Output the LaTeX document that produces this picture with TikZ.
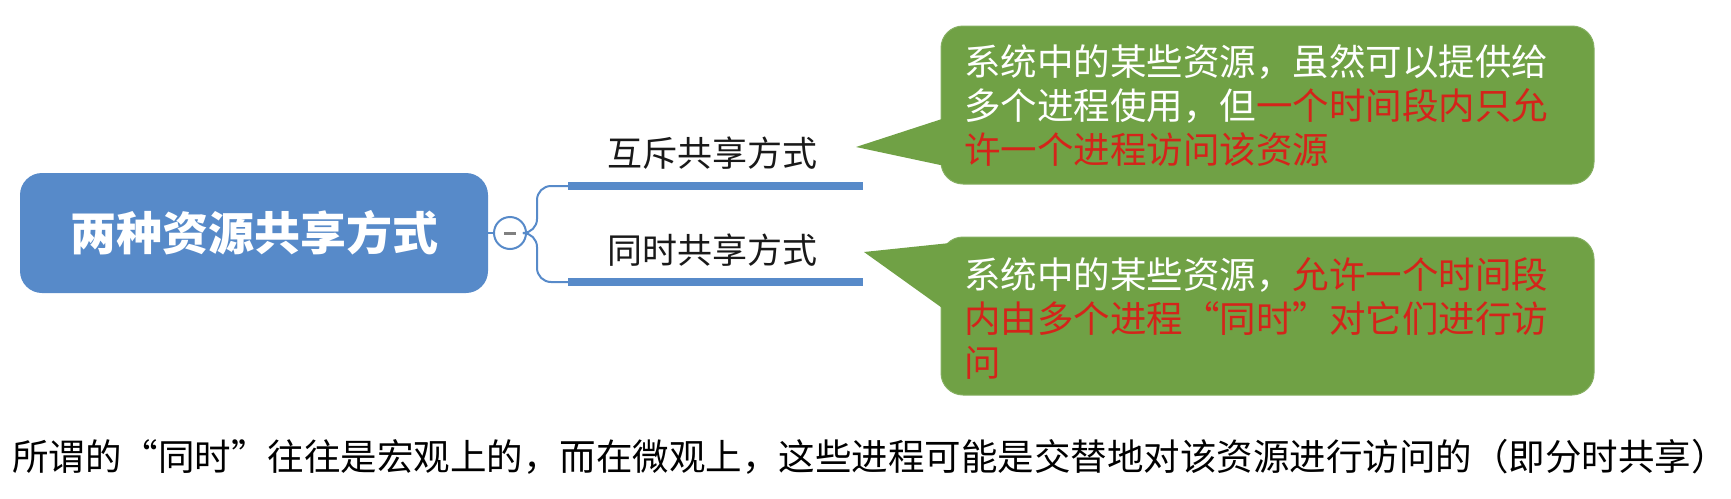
\documentclass[tikz,border=0pt]{standalone}
\usepackage{fontspec}
\setmainfont{Noto Sans CJK SC}
\definecolor{rootblue}{RGB}{87,138,201}
\definecolor{calloutgreen}{RGB}{112,161,69}
\definecolor{hlred}{RGB}{212,36,26}
\definecolor{branchtext}{RGB}{25,25,25}
\newcommand{\qopen}{\makebox[1em][r]{“}}
\newcommand{\qclose}{\makebox[1em][l]{”}}
\tikzset{
  rootbox/.style={fill=rootblue, draw=none, rounded corners=22pt, minimum width=468pt, minimum height=120pt, inner sep=0pt, text=white, font=\fontsize{46}{52}\selectfont\bfseries},
  collapse/.style={circle, draw=rootblue, line width=2pt, fill=white, minimum size=32pt, inner sep=0pt},
  branchlabel/.style={anchor=west, inner sep=0pt, text=branchtext, font=\fontsize{35}{40}\selectfont},
  underline/.style={draw=rootblue, line width=8pt},
  linkline/.style={draw=rootblue, line width=2pt, rounded corners=14pt},
  calloutbox/.style={fill=calloutgreen, draw=calloutgreen!85!white, line width=1pt, rounded corners=22pt, minimum width=653pt, minimum height=158pt, inner sep=0pt},
  pointer/.style={fill=calloutgreen, draw=none},
  callouttext/.style={anchor=west, inner sep=0pt, align=left, text=white, font=\fontsize{36.5}{44}\selectfont},
  bottomtext/.style={anchor=west, inner sep=0pt, text=black, font=\fontsize{36.5}{40}\selectfont}
}
\begin{document}
\begin{tikzpicture}[x=1pt, y=-1pt]
\useasboundingbox (0,0) rectangle (1731,498);
% root
\node[rootbox] (root) at (254,233) {两种资源共享方式};
\node[collapse] (col) at (510,233) {};
\draw[gray, line width=3pt] ([xshift=-6pt]col.center) -- ([xshift=6pt]col.center);
\draw[rootblue, line width=2pt] (root.east) -- (col.west);
% branches
\coordinate (u1w) at (568,186);
\coordinate (u1e) at (863,186);
\coordinate (u2w) at (568,282);
\coordinate (u2e) at (863,282);
\draw[underline] (u1w) -- (u1e);
\draw[underline] (u2w) -- (u2e);
\draw[linkline] (col.east) -- (537,233) |- (u1w);
\draw[linkline] (col.east) -- (537,233) |- (u2w);
\node[branchlabel] (b1) at (607,153) {互斥共享方式};
\node[branchlabel] (b2) at (607,250) {同时共享方式};
% callout 1
\node[calloutbox] (c1) at (1267.5,105) {};
\coordinate (t1) at (856,147);
\fill[pointer] (t1) -- (945,118) -- (945,166) -- cycle;
\node[callouttext] (c1t) at (964,106) {系统中的某些资源，虽然可以提供给\\多个进程使用，但\textcolor{hlred}{一个时间段内只允}\\\textcolor{hlred}{许一个进程访问该资源}};
% callout 2
\node[calloutbox] (c2) at (1267.5,316) {};
\coordinate (t2) at (864,252);
\fill[pointer] (t2) -- (950,243) -- (945,310) -- cycle;
\node[callouttext] (c2t) at (964,318) {系统中的某些资源，\textcolor{hlred}{允许一个时间段}\\\textcolor{hlred}{内由多个进程\qopen 同时\qclose 对它们进行访}\\\textcolor{hlred}{问}};
% bottom note
\node[bottomtext] (note) at (12,457) {所谓的\qopen 同时\qclose 往往是宏观上的，而在微观上，这些进程可能是交替地对该资源进行访问的（即分时共享）};
\end{tikzpicture}
\end{document}
